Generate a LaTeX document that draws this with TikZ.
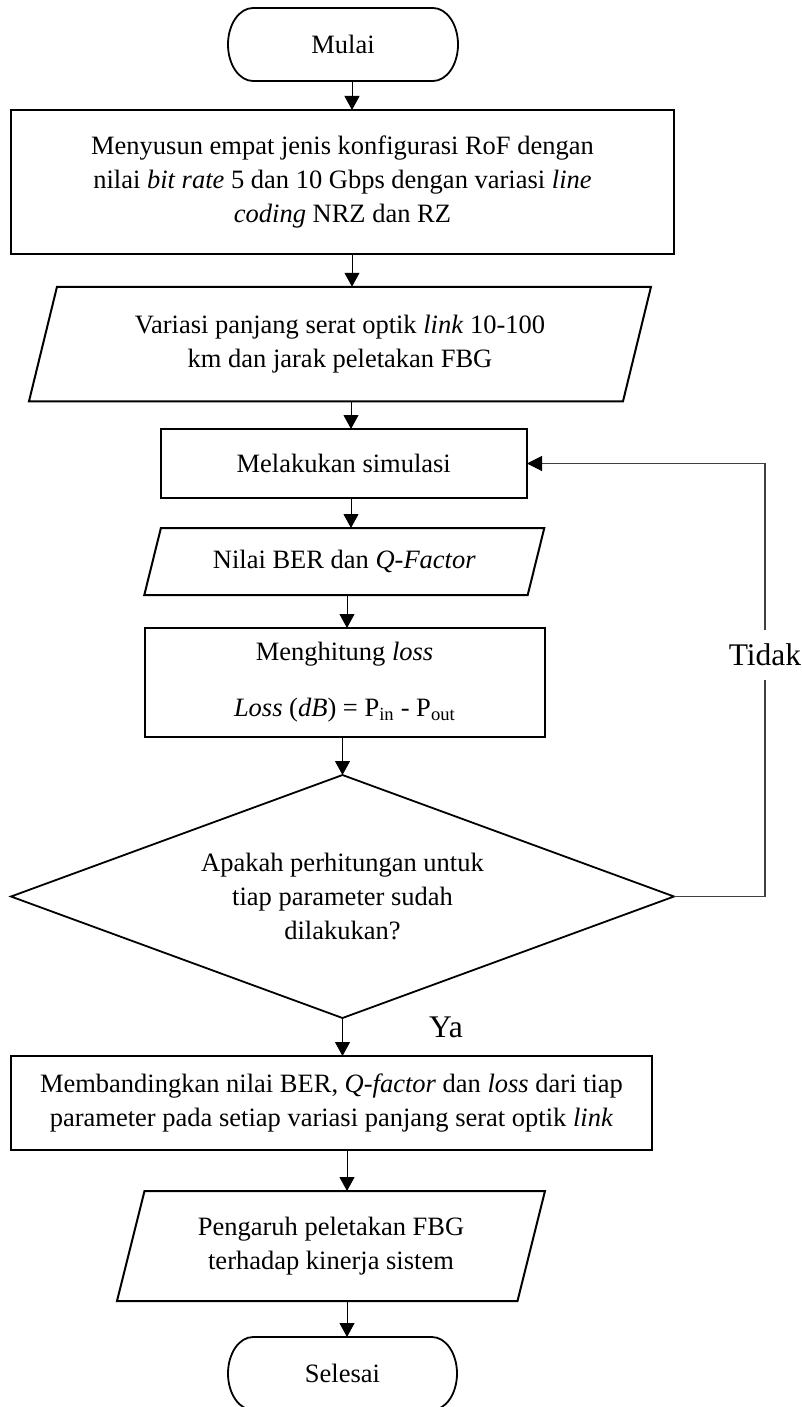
\documentclass[tikz,border=0pt]{standalone}
\usepackage{fontspec}
\setmainfont{Liberation Serif}
\usetikzlibrary{arrows.meta}
\newcommand{\ioshape}[2]{\draw[shapeline] ([xshift=#2]#1.north west) -- (#1.north east) -- ([xshift=-#2]#1.south east) -- (#1.south west) -- cycle;}
\newcommand{\termshape}[1]{\draw[termline] ([xshift=25pt]#1.north west) -- ([xshift=-25pt]#1.north east) arc[start angle=90,end angle=-90,x radius=25pt,y radius=36.5pt] -- ([xshift=25pt]#1.south west) arc[start angle=270,end angle=90,x radius=25pt,y radius=36.5pt] -- cycle;}
\begin{document}
\begin{tikzpicture}[x=1pt,y=-1pt,
  base/.style={font=\fontsize{26.5}{34}\selectfont, align=center, inner sep=0pt, outer sep=0pt},
  procbox/.style={base, draw, line width=2pt},
  shapeline/.style={line width=2pt, line join=miter},
  termline/.style={line width=1.8pt},
  diamline/.style={line width=1.8pt, line join=miter},
  arr/.style={line width=1pt, -{Triangle[length=14pt,width=15pt]}},
  loopline/.style={line width=1.1pt, draw=black!75},
  looparr/.style={loopline, -{Triangle[length=15pt,width=15pt,color=black]}},
  lbl/.style={font=\fontsize{31.5}{36}\selectfont, inner sep=0pt, outer sep=0pt}]
\useasboundingbox (0,0) rectangle (802,1407);

% axis coordinates for the vertical connectors
\coordinate (c352) at (352,0);
\coordinate (c351) at (351,0);
\coordinate (c347) at (347,0);

% nodes
\node[base, minimum width=230pt, minimum height=73pt] (start) at (343,44.5) {Mulai};
\termshape{start}

\node[procbox, minimum width=663pt, minimum height=144pt] (box1) at (342.5,182)
  {Menyusun empat jenis konfigurasi RoF dengan\\
   nilai \textit{bit rate} 5 dan 10 Gbps dengan variasi \textit{line}\\
   \textit{coding} NRZ dan RZ};

\node[base, minimum width=622pt, minimum height=114.5pt] (para1) at (340,344)
  {Variasi panjang serat optik \textit{link} 10-100\\
   km dan jarak peletakan FBG};
\ioshape{para1}{28pt}

\node[procbox, minimum width=366.5pt, minimum height=69pt] (box2) at (343.75,463.5)
  {Melakukan simulasi};

\node[base, minimum width=400pt, minimum height=67pt] (para2) at (344.3,561.5)
  {Nilai BER dan \textit{Q-Factor}};
\ioshape{para2}{16.6pt}

\node[procbox, minimum width=400pt, minimum height=109pt] (box3) at (344.6,682.5)
  {Menghitung \textit{loss}\\[22pt]
   \textit{Loss} (\textit{dB}) = P\textsubscript{in} - P\textsubscript{out}};

\node[base, minimum width=663pt, minimum height=243pt] (dia) at (342.5,896.5)
  {Apakah perhitungan untuk\\ tiap parameter sudah\\ dilakukan?};
\draw[diamline] (dia.north) -- (dia.east) -- (dia.south) -- (dia.west) -- cycle;

\node[procbox, minimum width=641pt, minimum height=94pt] (box4) at (331.5,1103)
  {Membandingkan nilai BER, \textit{Q-factor} dan \textit{loss} dari tiap\\
   parameter pada setiap variasi panjang serat optik \textit{link}};

\node[base, minimum width=428pt, minimum height=110pt] (para3) at (331,1246)
  {Pengaruh peletakan FBG\\ terhadap kinerja sistem};
\ioshape{para3}{27.5pt}

\node[base, minimum width=229pt, minimum height=73pt] (end) at (342.5,1373.5) {Selesai};
\termshape{end}

\node[lbl, minimum height=50pt] (tidak) at (765,655) {Tidak};
\node[lbl] (ya) at (446,1027) {Ya};

% connectors
\draw[arr] (start.south -| c352) -- (box1.north -| c352);
\draw[arr] (box1.south -| c352) -- (para1.north -| c352);
\draw[arr] (para1.south -| c351) -- (box2.north -| c351);
\draw[arr] (box2.south -| c351) -- (para2.north -| c351);
\draw[arr] (para2.south -| c347) -- (box3.north -| c347);
\draw[arr] (box3.south -| dia.north) -- (dia.north);
\draw[arr] (dia.south) -- (dia.south |- box4.north);
\draw[arr] (box4.south -| c347) -- (para3.north -| c347);
\draw[arr] (para3.south -| c347) -- (end.north -| c347);

\draw[loopline] (dia.east) -| (tidak.south);
\draw[looparr] (tidak.north) |- (box2.east);
\end{tikzpicture}
\end{document}
